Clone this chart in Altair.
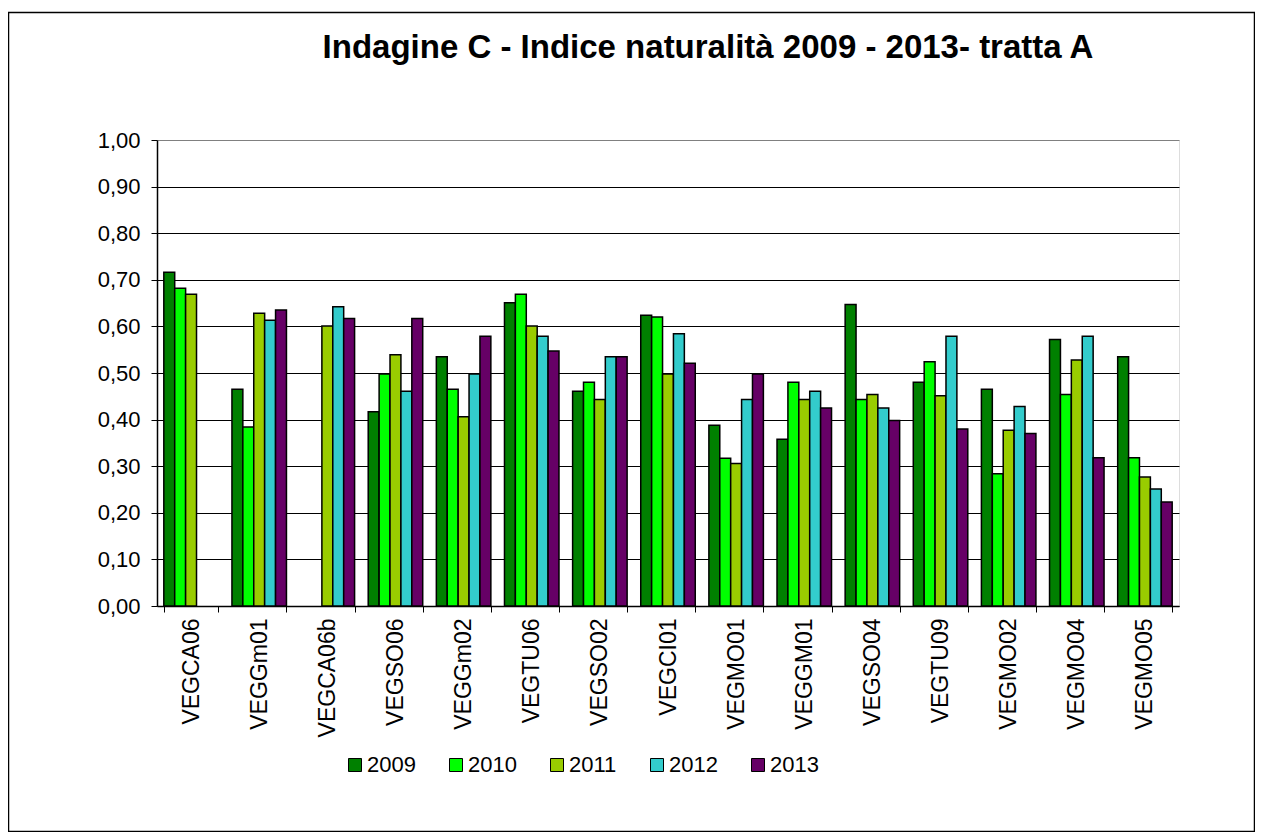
import altair as alt
import pandas as pd

sites = ["VEGCA06", "VEGGm01", "VEGCA06b", "VEGSO06", "VEGGm02", "VEGTU06", "VEGSO02",
         "VEGCI01", "VEGMO01", "VEGGM01", "VEGSO04", "VEGTU09", "VEGMO02", "VEGMO04", "VEGMO05"]
years = ["2009", "2010", "2011", "2012", "2013"]
colors = ["#008000", "#00FF00", "#99CC00", "#33CCCC", "#660066"]

values_2009 = [0.716, 0.465, None, 0.417, 0.535, 0.651, 0.461, 0.624, 0.388, 0.358, 0.647, 0.480, 0.465, 0.572, 0.535]
values_2010 = [0.682, 0.384, None, 0.498, 0.465, 0.669, 0.480, 0.620, 0.317, 0.480, 0.443, 0.524, 0.284, 0.454, 0.318]
values_2011 = [0.669, 0.628, 0.601, 0.539, 0.406, 0.601, 0.443, 0.498, 0.306, 0.443, 0.454, 0.451, 0.377, 0.528, 0.277]
values_2012 = [None, 0.613, 0.642, 0.461, 0.498, 0.579, 0.535, 0.584, 0.443, 0.461, 0.425, 0.579, 0.428, 0.579, 0.251]
values_2013 = [None, 0.635, 0.617, 0.617, 0.579, 0.547, 0.535, 0.521, 0.498, 0.425, 0.398, 0.380, 0.370, 0.318, 0.223]

y_ticks = [round(i * 0.1, 1) for i in range(11)]
title_text = "Indagine C - Indice naturalità 2009 - 2013- tratta A"

series = [values_2009, values_2010, values_2011, values_2012, values_2013]
rows = []
for yr, vals in zip(years, series):
    for s, v in zip(sites, vals):
        if v is not None:
            rows.append({"sito": s, "anno": yr, "valore": v})
df = pd.DataFrame(rows)

FONT = "Liberation Sans"
W, H = 1022, 466

bars = alt.Chart(df).mark_bar(stroke="black", strokeWidth=1.5).encode(
    x=alt.X("sito:N", sort=sites,
            scale=alt.Scale(paddingInner=0.2, paddingOuter=0.1),
            axis=alt.Axis(title=None, labelAngle=270, labelFontSize=23, labelFont=FONT,
                          labelColor="black", labelPadding=6, tickBand="extent", tickSize=6,
                          tickColor="black", tickWidth=1, domainColor="black", domainWidth=1.5,
                          grid=False, labelAlign="right", labelBaseline="middle")),
    xOffset=alt.XOffset("anno:N", sort=years,
                        scale=alt.Scale(domain=years, paddingInner=0, paddingOuter=0)),
    y=alt.Y("valore:Q", scale=alt.Scale(domain=[0, 1], nice=False),
            axis=alt.Axis(title=None, values=y_ticks,
                          labelExpr="replace(format(datum.value, '.2f'), '.', ',')",
                          labelFontSize=22, labelFont=FONT, labelColor="black", labelPadding=11,
                          tickSize=6, tickColor="black", tickWidth=1,
                          domainColor="black", domainWidth=1.5,
                          gridColor={"condition": {"test": "datum.value >= 1", "value": "#808080"},
                                     "value": "black"},
                          gridWidth=1)),
    color=alt.Color("anno:N", scale=alt.Scale(domain=years, range=colors),
                    legend=alt.Legend(title=None, orient="none", legendX=187, legendY=614,
                                      direction="horizontal", columns=5, symbolType="square",
                                      symbolSize=169, symbolStrokeColor="black", symbolStrokeWidth=1,
                                      labelFontSize=22, labelFont=FONT, labelColor="black",
                                      labelOffset=1, columnPadding=29, padding=0)),
)

title = alt.Chart(alt.Data(values=[{}])).mark_text(
    text=title_text, font=FONT, fontSize=33, fontWeight="bold", align="center",
    baseline="alphabetic", color="black"
).encode(x=alt.value(551), y=alt.value(-82))

border = alt.Chart(alt.Data(values=[{}])).mark_rect(
    fill="transparent", stroke="black", strokeWidth=1.5
).encode(x=alt.value(-148.5), x2=alt.value(1097.5), y=alt.value(-127.5), y2=alt.value(691.5))

chart = alt.layer(border, bars, title).properties(
    width=W, height=H,
    autosize=alt.AutoSizeParams(type="none"),
    padding={"left": 149, "top": 132, "right": 76, "bottom": 226},
).configure_view(stroke="#808080", strokeWidth=2).configure(font=FONT)

chart.save("out.html", embed_options={"renderer": "svg", "actions": False})
